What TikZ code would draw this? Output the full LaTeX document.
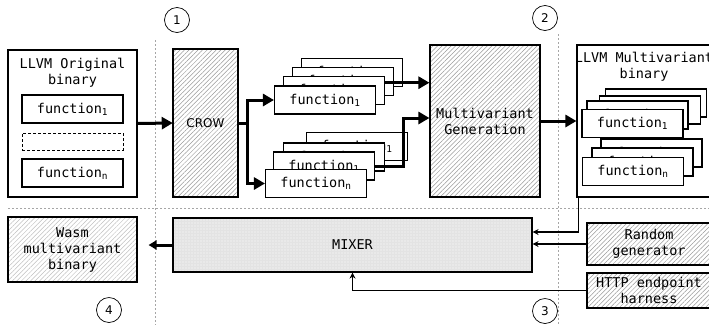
\documentclass[tikz,border=0pt]{standalone}
\usepackage{fontspec}
\setmonofont{DejaVu Sans Mono}
\setsansfont{DejaVu Sans}
\usetikzlibrary{arrows.meta,patterns.meta}
\def\fn#1{function\textsubscript{#1}}

\begin{document}
\begin{tikzpicture}[x=1pt,y=-1pt,
    every node/.style={font=\ttfamily\fontsize{13.5}{16}\selectfont, align=center, inner sep=0pt},
    box/.style={draw, line width=1.1pt, fill=white},
    fbox/.style={box, minimum width=101pt, minimum height=28pt},
    hatch/.style={draw, line width=1.1pt, pattern={Lines[angle=45,distance=3.2pt,line width=0.5pt]}, pattern color=gray!80},
    stepno/.style={circle, draw, line width=0.7pt, minimum size=25pt, font=\sffamily\fontsize{12}{14}\selectfont},
    sep/.style={gray!70, line width=0.6pt, dash pattern=on 2pt off 2pt},
    arr/.style={line width=3pt, -{Triangle[length=11pt,width=12pt]}},
    sarr/.style={line width=1.3pt, -{Stealth[length=6pt,width=6pt]}}
  ]
  \useasboundingbox (0,0) rectangle (709,325);

  % separators and step numbers
  \draw[sep] (155,40) -- (155,325);
  \draw[sep] (558,34) -- (558,325);
  \draw[sep] (8,208) -- (709,208);
  \node[stepno] (s1) at (177,20) {1};
  \node[stepno] (s2) at (545,18) {2};
  \node[stepno] (s3) at (545,311) {3};
  \node[stepno] (s4) at (109,310) {4};

  % original binary
  \node[box, minimum width=129pt, minimum height=147pt] (orig) at (72.5,123.5) {};
  \node (origtxt) at (72.5,73) {LLVM Original\\binary};
  \node[fbox] (of1) at (72.5,109) {\fn{1}};
  \node[box, line width=0.8pt, dash pattern=on 3pt off 2pt, minimum width=101pt, minimum height=17pt] (odots) at (72.5,141.5) {};
  \node[fbox] (ofn) at (72.5,173) {\fn{n}};

  \node[hatch, minimum width=65pt, minimum height=148pt, font=\sffamily\fontsize{12}{14}\selectfont] (crow) at (205.5,123) {CROW};
  \draw[arr] (orig.east) -- (crow.west);

  % variants of each function
  \foreach \i in {3,2,1,0}
    \node[fbox] (up\i) at (325+9*\i,100-9.3*\i) {\fn{1}};
  \foreach \x/\y [count=\k] in {357/146.5, 334/157, 324/166}
    \node[fbox] (lo\k) at (\x,\y) {\fn{1}};
  \node[fbox] (lofn) at (316,183.5) {\fn{n}};

  \coordinate (fork) at ([xshift=9pt]crow.east);
  \draw[line width=3pt] (crow.east) -- (fork);
  \draw[arr] (fork) |- (up0.west);
  \draw[arr] (fork) |- (lofn.west);

  \node[hatch, minimum width=110pt, minimum height=152pt] (mvgen) at (485,121) {Multivariant\\Generation};
  \draw[arr] ([yshift=8pt]up1.east) -- ([yshift=8pt]up1.east -| mvgen.west);
  \draw[arr] (lo3.east) -- ++(28,0) |- (mvgen.west |- 0,118);

  % multivariant binary
  \node[box, minimum width=134pt, minimum height=152pt] (mvbin) at (644,121) {};
  \node (mvtxt) at (644,66.5) {LLVM Multivariant\\binary};
  \foreach \x/\y [count=\k] in {656/103, 650/110, 637.5/115, 632.5/123.5}
    \node[fbox] (rup\k) at (\x,\y) {\fn{1}};
  \foreach \x/\y [count=\k] in {651.5/153, 642.5/162}
    \node[fbox] (rlo\k) at (\x,\y) {\fn{1}};
  \node[fbox] (rlofn) at (633,171.5) {\fn{n}};
  \draw[arr] (mvgen.east) -- (mvbin.west);

  % mixing
  \node[hatch, pattern color=gray!50, minimum width=129pt, minimum height=65pt] (wasm) at (72.5,249.5) {Wasm\\multivariant\\binary};
  \node[draw, line width=1.1pt, preaction={fill=gray!22}, pattern={Dots[distance=3pt,radius=0.7pt]}, pattern color=white,
    minimum width=359pt, minimum height=54pt] (mixer) at (352.5,245) {MIXER};
  \node[hatch, minimum width=124pt, minimum height=42pt] (rand) at (649,244) {Random\\generator};
  \node[hatch, minimum width=124pt, minimum height=35pt] (http) at (649,290.5) {HTTP endpoint\\harness};

  \draw[line width=3pt, -{Triangle[length=8pt,width=9pt]}] (mixer.west) -- ([xshift=11pt]wasm.east |- mixer.west);
  \draw[sarr] ([xshift=2pt]mvbin.south west) |- (mixer.east |- 0,232);
  \draw[sarr] (rand.west) -- (rand.west -| mixer.east);
  \draw[sarr] (http.west) -| (mixer.south);
\end{tikzpicture}
\end{document}
